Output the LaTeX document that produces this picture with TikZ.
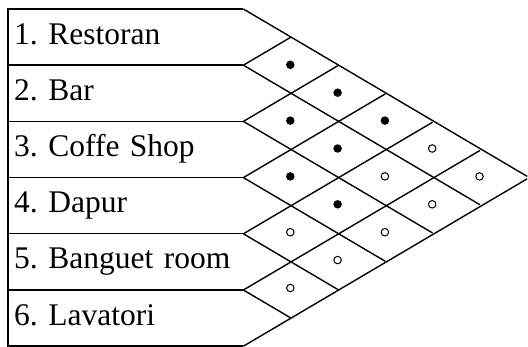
\documentclass[tikz,border=0pt]{standalone}
\usepackage{fontspec}
\setmainfont{Liberation Serif}
\usetikzlibrary{positioning}
\frenchspacing
\tikzset{
  room label/.style={
    rectangle, text width=223pt, minimum height=55.8pt,
    inner xsep=6pt, inner ysep=0pt, align=left,
    text height=21pt, text depth=7pt,
    font=\fontsize{31.5}{36}\selectfont
  },
  grid line/.style={line width=1.4pt, black, line join=miter},
  used dot/.style={circle, fill=black, inner sep=0pt, minimum size=8.5pt},
  free dot/.style={circle, draw=black, line width=1pt, inner sep=0pt, minimum size=7.5pt}
}
\def\rowh{55.8}
\def\half{47.3}

\begin{document}
\begin{tikzpicture}[x=1pt, y=1pt, node distance=0pt]
    \useasboundingbox (0,0) rectangle (528,-347);
    % room names
    \node[room label, anchor=north west] (restoran) at (8,-9) {1. Restoran};
    \node[room label, below=of restoran] (bar) {2. Bar};
    \node[room label, below=of bar] (coffe) {3. Coffe Shop};
    \node[room label, below=of coffe] (dapur) {4. Dapur};
    \node[room label, below=of dapur] (banguet) {5. Banguet room};
    \node[room label, below=of banguet] (lavatori) {6. Lavatori};
    % frame of the list
    \draw[grid line] (restoran.north east) -- (restoran.north west)
      -- (lavatori.south west) -- (lavatori.south east);
    \foreach \n in {bar, coffe, dapur, banguet, lavatori}
      \draw[grid line] (\n.north west) -- (\n.north east);
    % diamond grid
    \foreach \n [count=\k from 0] in {restoran, bar, coffe, dapur, banguet, lavatori} {
      \draw[grid line] (\n.north east) -- ++({(6-\k)*\half}, {-(6-\k)*\rowh/2});
      \draw[grid line] (\n.north east) -- ++({\k*\half}, {\k*\rowh/2});
    }
    \draw[grid line] (lavatori.south east) -- ++({6*\half}, {6*\rowh/2});
    % relations
    \foreach \i/\j/\s in {1/2/used dot, 1/3/used dot, 2/3/used dot,
        1/4/used dot, 2/4/used dot, 3/4/used dot, 3/5/used dot,
        1/5/free dot, 1/6/free dot, 2/5/free dot, 2/6/free dot,
        3/6/free dot, 4/5/free dot, 4/6/free dot, 5/6/free dot}
      \node[\s] (rel\i\j) at ({243+(\j-\i)*\half}, {-9-(\i+\j-1)*\rowh/2}) {};
\end{tikzpicture}
\end{document}
